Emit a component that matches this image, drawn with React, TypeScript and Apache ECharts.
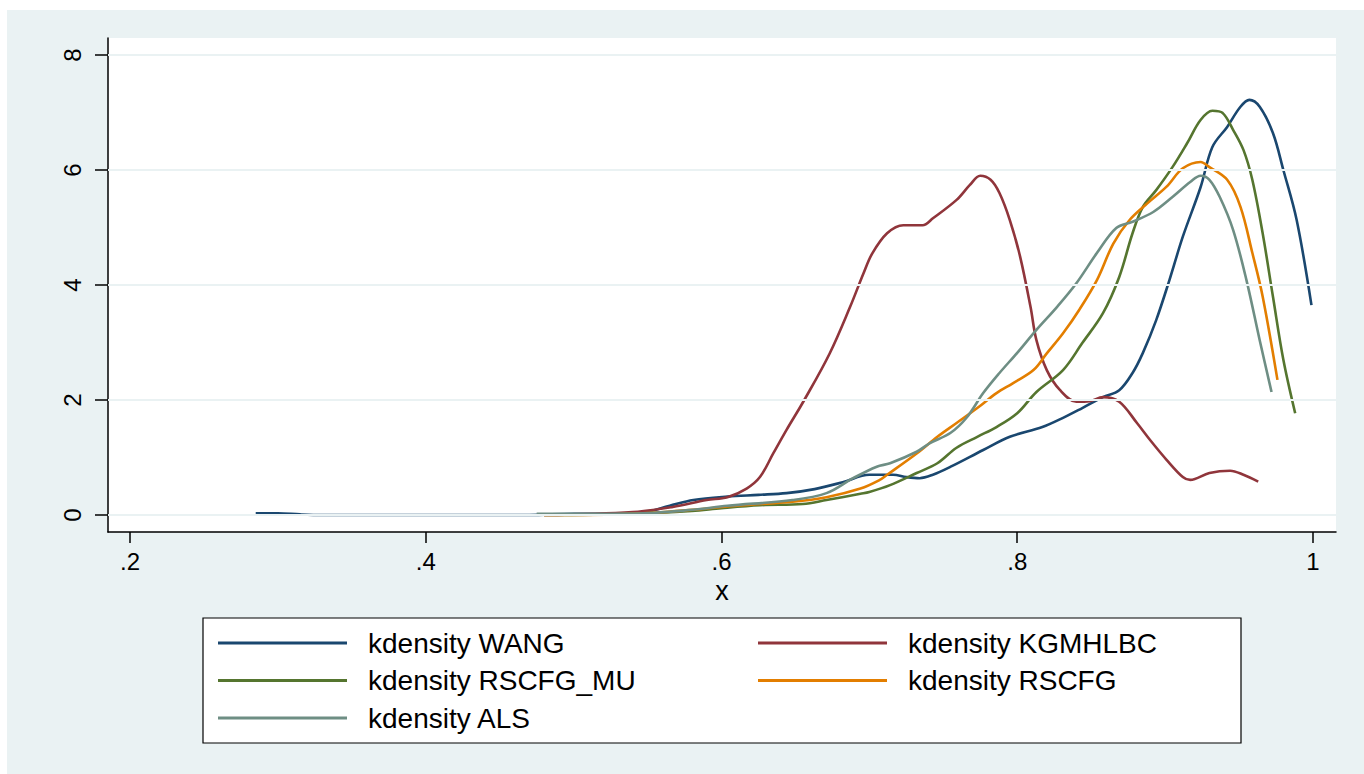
import React, { useEffect, useRef } from "react";
import * as echarts from "echarts";

const FONT = '"Liberation Sans", Arial, Helvetica, sans-serif';

const xTicks = [0.2, 0.4, 0.6, 0.8, 1];
const yTicks = [0, 2, 4, 6, 8];

const seriesNames = [
  "kdensity WANG",
  "kdensity KGMHLBC",
  "kdensity RSCFG_MU",
  "kdensity RSCFG",
  "kdensity ALS",
];
const seriesColors = ["#1a476f", "#90353b", "#55752f", "#e37e00", "#6e8e84"];

const wangX = [0.285, 0.3, 0.315, 0.33, 0.4, 0.47, 0.5, 0.53, 0.547, 0.565, 0.581, 0.604, 0.625, 0.644, 0.663, 0.682, 0.7, 0.716, 0.725, 0.734, 0.743, 0.755, 0.777, 0.795, 0.817, 0.831, 0.844, 0.858, 0.869, 0.878, 0.885, 0.894, 0.903, 0.912, 0.924, 0.932, 0.942, 0.951, 0.957, 0.964, 0.973, 0.98, 0.989, 0.999];
const wangY = [0.03, 0.03, 0.01, 0.0, 0.0, 0.0, 0.02, 0.02, 0.04, 0.16, 0.26, 0.32, 0.35, 0.38, 0.45, 0.57, 0.7, 0.7, 0.66, 0.64, 0.7, 0.84, 1.13, 1.36, 1.53, 1.69, 1.86, 2.05, 2.17, 2.47, 2.82, 3.39, 4.09, 4.84, 5.7, 6.4, 6.75, 7.1, 7.22, 7.1, 6.64, 6.0, 5.13, 3.65];

const kgmX = [0.48, 0.54, 0.567, 0.59, 0.604, 0.617, 0.626, 0.635, 0.644, 0.656, 0.673, 0.687, 0.696, 0.702, 0.712, 0.723, 0.736, 0.743, 0.759, 0.768, 0.775, 0.782, 0.788, 0.795, 0.802, 0.809, 0.813, 0.82, 0.829, 0.84, 0.849, 0.858, 0.869, 0.881, 0.89, 0.901, 0.912, 0.917, 0.93, 0.944, 0.953, 0.963];
const kgmY = [0.0, 0.05, 0.14, 0.26, 0.31, 0.46, 0.66, 1.07, 1.48, 2.0, 2.8, 3.62, 4.2, 4.55, 4.9, 5.04, 5.04, 5.16, 5.48, 5.74, 5.9, 5.83, 5.6, 5.13, 4.49, 3.62, 3.04, 2.52, 2.17, 1.97, 1.98, 2.05, 1.97, 1.6, 1.3, 0.96, 0.66, 0.61, 0.73, 0.77, 0.7, 0.58];

const muX = [0.48, 0.54, 0.58, 0.6, 0.626, 0.655, 0.671, 0.694, 0.7, 0.714, 0.732, 0.746, 0.759, 0.773, 0.786, 0.8, 0.813, 0.831, 0.844, 0.858, 0.869, 0.878, 0.885, 0.894, 0.905, 0.915, 0.924, 0.932, 0.939, 0.946, 0.953, 0.959, 0.966, 0.973, 0.98, 0.988];
const muY = [0.0, 0.02, 0.07, 0.12, 0.17, 0.19, 0.26, 0.37, 0.4, 0.52, 0.73, 0.9, 1.17, 1.36, 1.53, 1.77, 2.14, 2.52, 2.99, 3.51, 4.14, 4.9, 5.36, 5.65, 6.05, 6.47, 6.87, 7.03, 6.99, 6.7, 6.35, 5.83, 4.9, 3.79, 2.7, 1.77];

const rscfgX = [0.48, 0.54, 0.581, 0.6, 0.615, 0.648, 0.671, 0.694, 0.707, 0.712, 0.732, 0.746, 0.759, 0.773, 0.786, 0.797, 0.811, 0.82, 0.831, 0.842, 0.854, 0.865, 0.876, 0.888, 0.901, 0.912, 0.924, 0.93, 0.942, 0.951, 0.959, 0.966, 0.976];
const rscfgY = [0.0, 0.02, 0.09, 0.14, 0.17, 0.23, 0.31, 0.46, 0.61, 0.7, 1.07, 1.36, 1.6, 1.86, 2.12, 2.29, 2.52, 2.81, 3.16, 3.57, 4.09, 4.72, 5.13, 5.42, 5.71, 6.03, 6.14, 6.05, 5.83, 5.36, 4.56, 3.8, 2.35];

const alsX = [0.475, 0.491, 0.547, 0.58, 0.604, 0.648, 0.671, 0.689, 0.705, 0.714, 0.732, 0.741, 0.755, 0.766, 0.777, 0.788, 0.8, 0.813, 0.827, 0.84, 0.854, 0.867, 0.878, 0.892, 0.905, 0.917, 0.924, 0.93, 0.937, 0.946, 0.955, 0.964, 0.972];
const alsY = [0.02, 0.02, 0.03, 0.09, 0.16, 0.26, 0.38, 0.64, 0.84, 0.9, 1.1, 1.25, 1.43, 1.7, 2.12, 2.47, 2.82, 3.22, 3.62, 4.03, 4.56, 4.99, 5.1, 5.27, 5.53, 5.79, 5.9, 5.83, 5.53, 4.96, 4.09, 3.04, 2.14];

const seriesXs = [wangX, kgmX, muX, rscfgX, alsX];
const seriesYs = [wangY, kgmY, muY, rscfgY, alsY];

const zip = (xs: number[], ys: number[]) => xs.map((x, i) => [x, ys[i]]);

export default function App() {
  const ref = useRef<HTMLDivElement>(null);

  useEffect(() => {
    if (!ref.current) return;
    const chart = echarts.init(ref.current, undefined, { renderer: "svg" });

    const lineSeries: any[] = seriesNames.map((name, i) => ({
      name,
      type: "line",
      data: zip(seriesXs[i], seriesYs[i]),
      symbol: "none",
      smooth: 0.35,
      clip: true,
      z: 3,
      lineStyle: { color: seriesColors[i], width: 2.6 },
      itemStyle: { color: seriesColors[i] },
    }));

    const gridSeries = {
      name: "grid",
      type: "line",
      data: [],
      z: 1,
      silent: true,
      markLine: {
        silent: true,
        symbol: ["none", "none"],
        label: { show: false },
        lineStyle: { color: "#eaf2f3", width: 2, type: "solid" },
        emphasis: { disabled: true },
        data: yTicks.map((v) => ({ yAxis: v })),
      },
    };

    chart.setOption({
      animation: false,
      backgroundColor: "#eaf2f3",
      textStyle: { fontFamily: FONT },
      graphic: [
        {
          type: "rect",
          z: 1,
          shape: { x: 196, y: 608, width: 1038, height: 125 },
          style: { fill: "#ffffff", stroke: "#000000", lineWidth: 1.2 },
        },
      ],
      grid: {
        left: 101,
        top: 28,
        width: 1228,
        height: 494,
        show: true,
        backgroundColor: "#ffffff",
        borderWidth: 0,
      },
      xAxis: {
        type: "value",
        min: 0.1851,
        max: 1.0156,
        name: "x",
        nameLocation: "middle",
        nameGap: 44,
        nameTextStyle: { color: "#000", fontSize: 27, fontFamily: FONT },
        axisLine: { show: true, onZero: false, lineStyle: { color: "#000", width: 1.5 } },
        axisTick: { show: true, length: 11, customValues: xTicks, lineStyle: { color: "#000", width: 1.5 } },
        axisLabel: {
          customValues: xTicks,
          color: "#000",
          fontSize: 24,
          fontFamily: FONT,
          margin: 17,
          formatter: (v: number) => (v === 1 ? "1" : String(v).replace(/^0/, "")),
        },
        splitLine: { show: false },
      },
      yAxis: {
        type: "value",
        min: -0.296,
        max: 8.296,
        axisLine: { show: true, onZero: false, lineStyle: { color: "#000", width: 1.5 } },
        axisTick: { show: true, length: 13, customValues: yTicks, lineStyle: { color: "#000", width: 1.5 } },
        axisLabel: {
          customValues: yTicks,
          rotate: 90,
          color: "#000",
          fontSize: 24,
          fontFamily: FONT,
          margin: 24,
        },
        splitLine: { show: false },
      },
      legend: {
        data: seriesNames,
        left: 211,
        top: 618,
        width: 1100,
        padding: 0,
        itemGap: 7.5,
        itemWidth: 129,
        itemHeight: 3,
        icon: "rect",
        selectedMode: false,
        textStyle: {
          color: "#000",
          fontSize: 28,
          fontFamily: FONT,
          width: 382.5,
          height: 30,
          lineHeight: 30,
          padding: [0, 0, 0, 16],
        },
      },
      series: [gridSeries, ...lineSeries],
    });

    return () => chart.dispose();
  }, []);

  return (
    <div
      ref={ref}
      style={{ position: "absolute", left: 7, top: 10, width: 1357, height: 764 }}
    />
  );
}
